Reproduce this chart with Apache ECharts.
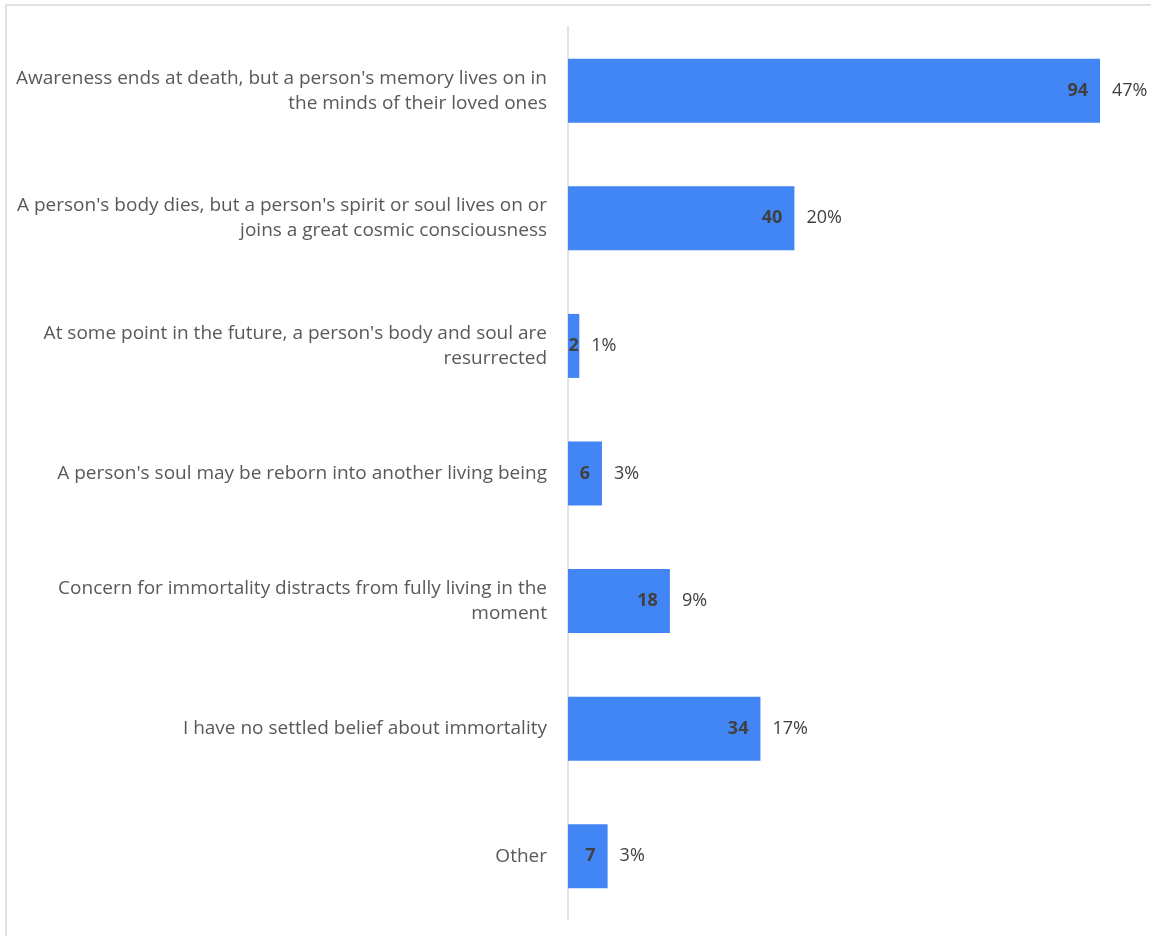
<!DOCTYPE html>
<html>
<head>
<meta charset="utf-8">
<script src="https://cdn.jsdelivr.net/npm/echarts@6/dist/echarts.min.js"></script>
<style>
  html, body { margin: 0; padding: 0; background: #fff; }
  #chart { width: 1151px; height: 936px; }
</style>
</head>
<body>
<div id="chart"></div>
<script>
// Survey answers, top to bottom
const categories = [
  "Awareness ends at death, but a person's memory lives on in\nthe minds of their loved ones",
  "A person's body dies, but a person's spirit or soul lives on or\njoins a great cosmic consciousness",
  "At some point in the future, a person's body and soul are\nresurrected",
  "A person's soul may be reborn into another living being",
  "Concern for immortality distracts from fully living in the\nmoment",
  "I have no settled belief about immortality",
  "Other"
];
// Number of respondents per answer
const counts = [94, 40, 2, 6, 18, 34, 7];

const total = counts.reduce((a, b) => a + b, 0);
const fontFamily = "'Open Sans', 'Noto Sans', sans-serif";

// Bars too narrow for an end label get their count centred instead
const countItems = counts.map(v => v < 4
  ? { value: v, label: { position: 'inside' } }
  : v);

const chart = echarts.init(document.getElementById('chart'));
chart.setOption({
  animation: false,
  graphic: [{
    type: 'rect',
    shape: { x: 6, y: 5, width: 1200, height: 1000 },
    style: { fill: 'none', stroke: '#d9d9d9', lineWidth: 1.5 },
    silent: true
  }],
  grid: { left: 568, right: 17, top: 27, bottom: 16, containLabel: false },
  xAxis: {
    type: 'value',
    min: 0,
    max: 100,
    show: false
  },
  yAxis: {
    type: 'category',
    inverse: true,
    data: categories,
    axisLine: { show: true, lineStyle: { color: '#d9d9d9', width: 1.5 } },
    axisTick: { show: false },
    axisLabel: {
      margin: 21,
      color: '#595959',
      fontFamily: fontFamily,
      fontSize: 19,
      lineHeight: 25,
      align: 'right'
    }
  },
  series: [
    {
      type: 'bar',
      data: countItems,
      barWidth: 64,
      itemStyle: { color: '#4285F4' },
      label: {
        show: true,
        position: 'insideRight',
        distance: 12,
        color: '#404040',
        fontWeight: 'bold',
        fontFamily: fontFamily,
        fontSize: 18
      },
      z: 2
    },
    {
      type: 'bar',
      data: counts,
      barWidth: 64,
      barGap: '-100%',
      itemStyle: { color: 'transparent' },
      label: {
        show: true,
        position: 'right',
        distance: 12,
        color: '#404040',
        fontFamily: fontFamily,
        fontSize: 18,
        formatter: p => Math.round(p.value / total * 100) + '%'
      },
      silent: true,
      z: 3
    }
  ]
});
</script>
</body>
</html>
